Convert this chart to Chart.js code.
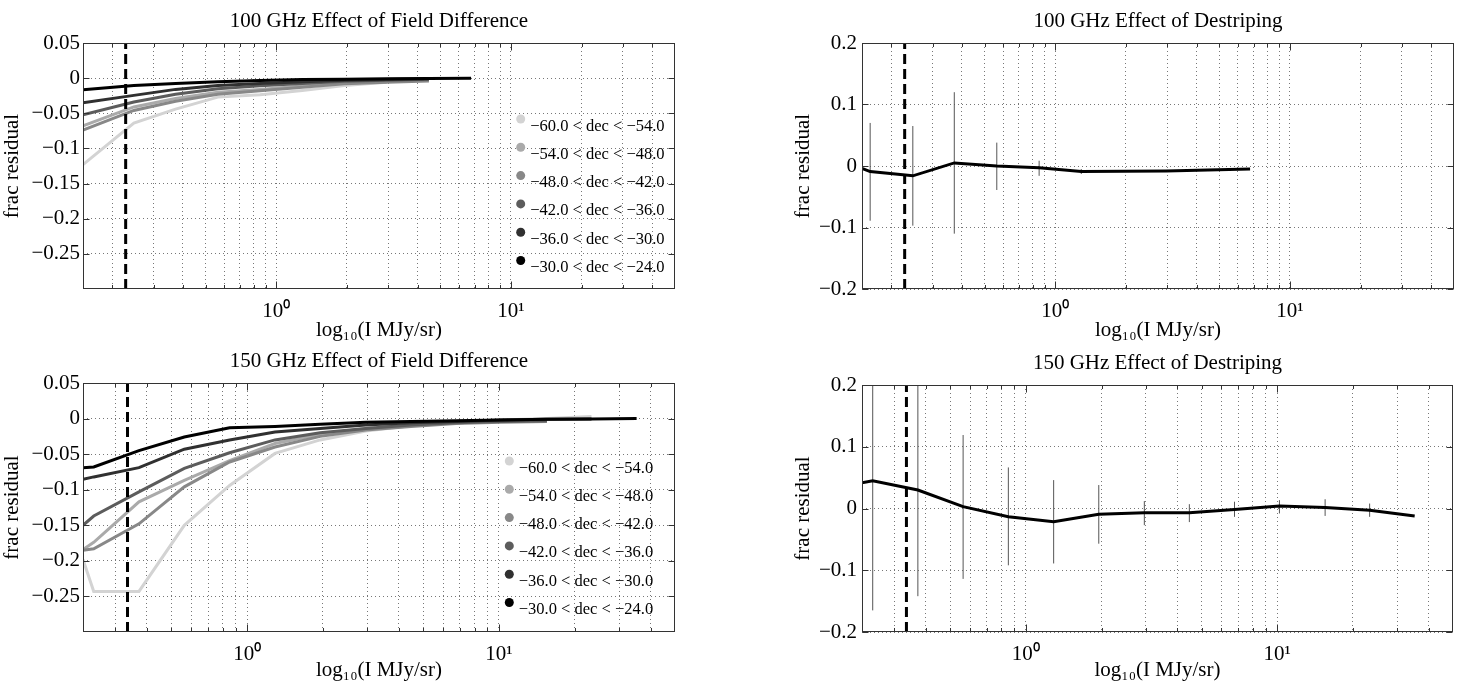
<!DOCTYPE html>
<html>
<head>
<meta charset="utf-8">
<script src="https://cdn.jsdelivr.net/npm/chart.js@4.4.1/dist/chart.umd.min.js"></script>
<style>
  body { margin: 0; background: #fff; }
  #wrap { position: relative; width: 1459px; height: 695px; }
  canvas { position: absolute; }
</style>
</head>
<body>
<div id="wrap">
  <canvas id="fd100" width="729" height="345" style="left:0;top:0"></canvas>
  <canvas id="ds100" width="729" height="345" style="left:730px;top:0"></canvas>
  <canvas id="fd150" width="729" height="350" style="left:0;top:345px"></canvas>
  <canvas id="ds150" width="729" height="350" style="left:730px;top:345px"></canvas>
</div>
<script>
Chart.defaults.font.family = "'Liberation Serif', 'Times New Roman', serif";
Chart.defaults.color = '#000';

// declination bins (legend order, light -> dark)
const decLabels = ['−60.0 < dec < −54.0', '−54.0 < dec < −48.0', '−48.0 < dec < −42.0',
                   '−42.0 < dec < −36.0', '−36.0 < dec < −30.0', '−30.0 < dec < −24.0'];
const decColors = ['#d3d3d3', '#aaaaaa', '#888888', '#5c5c5c', '#303030', '#000000'];

// 100 GHz effect of field difference
const fd100X = [0.15, 0.247, 0.372, 0.563, 0.852, 1.29, 1.95, 2.96, 4.47, 6.76];
const fd100Dec60 = [-0.123, -0.064, -0.044, -0.027, -0.0235, -0.0175, -0.0105, -0.006];
const fd100Dec54 = [-0.068, -0.041, -0.029, -0.020, -0.016, -0.011, -0.007, -0.005];
const fd100Dec48 = [-0.074, -0.046, -0.033, -0.023, -0.018, -0.013, -0.008, -0.006, -0.004];
const fd100Dec42 = [-0.052, -0.034, -0.023, -0.015, -0.011, -0.0075, -0.0045, -0.003, -0.0015];
const fd100Dec36 = [-0.035, -0.0245, -0.016, -0.0105, -0.0075, -0.005, -0.003, -0.002, -0.001];
const fd100Dec30 = [-0.0165, -0.0105, -0.0075, -0.005, -0.0035, -0.002, -0.0015, -0.001, -0.0005, 0];

// 150 GHz effect of field difference
const fd150X = [0.223, 0.246, 0.372, 0.563, 0.852, 1.29, 1.95, 2.96, 4.47, 6.76, 10.2, 15.5, 23.3, 35.2];
const fd150Dec60 = [-0.198, -0.243, -0.243, -0.150, -0.094, -0.049, -0.030, -0.0175, -0.010, -0.006, -0.002, 0.0, 0.003];
const fd150Dec54 = [-0.184, -0.174, -0.117, -0.087, -0.059, -0.035, -0.022, -0.014, -0.009, -0.006, -0.004, -0.003];
const fd150Dec48 = [-0.185, -0.183, -0.148, -0.096, -0.061, -0.040, -0.025, -0.016, -0.011, -0.007, -0.005, -0.004];
const fd150Dec42 = [-0.150, -0.137, -0.103, -0.070, -0.048, -0.030, -0.020, -0.014, -0.009, -0.006, -0.004, -0.003];
const fd150Dec36 = [-0.0855, -0.082, -0.069, -0.043, -0.030, -0.019, -0.014, -0.009, -0.006, -0.004, -0.002, -0.001, -0.0005];
const fd150Dec30 = [-0.069, -0.068, -0.045, -0.026, -0.013, -0.011, -0.008, -0.005, -0.004, -0.003, -0.002, -0.001, -0.0005, 0];

// 100 GHz effect of destriping
const ds100X = [0.15, 0.1625, 0.247, 0.371, 0.563, 0.853, 1.29, 1.95, 2.96, 4.47, 6.76];
const ds100Y = [-0.004, -0.009, -0.016, 0.005, 0.0, -0.003, -0.009, -0.0085, -0.008, -0.0065, -0.005];
const ds100ErrX = [0.1625, 0.247, 0.371, 0.563, 0.853, 1.29];
const ds100ErrLo = [-0.089, -0.097, -0.110, -0.039, -0.016, -0.013];
const ds100ErrHi = [0.070, 0.065, 0.120, 0.038, 0.0086, -0.005];

// 150 GHz effect of destriping
const ds150X = [0.223, 0.246, 0.372, 0.563, 0.852, 1.29, 1.95, 2.96, 4.47, 6.76, 10.2, 15.5, 23.3, 35.2];
const ds150Y = [0.0415, 0.045, 0.030, 0.003, -0.0135, -0.0215, -0.0095, -0.007, -0.007, -0.0015, 0.004, 0.0015, -0.003, -0.012];
const ds150ErrX = [0.246, 0.372, 0.563, 0.852, 1.29, 1.95, 2.96, 4.47, 6.76, 10.2, 15.5, 23.3];
const ds150ErrLo = [-0.165, -0.142, -0.114, -0.092, -0.089, -0.057, -0.027, -0.022, -0.0135, -0.008, -0.012, -0.0135];
const ds150ErrHi = [0.255, 0.205, 0.119, 0.0665, 0.046, 0.038, 0.012, 0.007, 0.011, 0.0135, 0.015, 0.008];

// axes
const xGrid100 = [0.2, 0.3, 0.4, 0.5, 0.6, 0.7, 0.8, 0.9, 1, 2, 3, 4, 5, 6, 7, 8, 9, 10, 20, 30, 40];
const xGrid150 = [0.3, 0.4, 0.5, 0.6, 0.7, 0.8, 0.9, 1, 2, 3, 4, 5, 6, 7, 8, 9, 10, 20, 30, 40];
const xMajor = [1, 10];
const yTicksFd = [0.05, 0, -0.05, -0.1, -0.15, -0.2, -0.25];
const yTicksDs = [0.2, 0.1, 0, -0.1, -0.2];
const cut100 = 0.228;
const cut150 = 0.335;

const FS = 21;
const SUP = {'0': '⁰', '1': '¹', '2': '²', '-': '⁻'};
const fmtY = v => (v < 0 ? '−' : '') + String(Math.abs(v));
const fmtX = v => xMajor.includes(v) ? '10' + String(Math.round(Math.log10(v))).split('').map(c => SUP[c]).join('') : '';

function pts(xs, ys) { return ys.map((y, i) => ({x: xs[i], y: y})); }

function decSets(xs, series) {
  return series.map((ys, i) => ({
    label: decLabels[i], inLegend: true, data: pts(xs, ys),
    borderColor: decColors[i], borderWidth: 3, order: 5 - i
  }));
}

function errSets(xs, lo, hi) {
  return xs.map((x, i) => ({
    data: [{x: x, y: lo[i]}, {x: x, y: hi[i]}],
    borderColor: '#555', borderWidth: 1, order: 1
  }));
}

function cutSet(x, ymin, ymax) {
  return {data: [{x: x, y: ymin}, {x: x, y: ymax}], borderColor: '#000', borderWidth: 3, borderDash: [10, 5], order: -1};
}

// box, inward tick marks
const framePlugin = {
  id: 'frame',
  afterDraw(chart) {
    const {ctx, chartArea: a, scales: {x, y}} = chart;
    const L = Math.round(a.left) + 0.5, R = Math.round(a.right) - 0.5;
    const T = Math.round(a.top) + 0.5, B = Math.round(a.bottom) - 0.5;
    ctx.save();
    ctx.strokeStyle = '#333';
    ctx.lineWidth = 1;
    ctx.strokeRect(L, T, R - L, B - T);
    ctx.beginPath();
    y.ticks.forEach(t => {
      const py = Math.round(y.getPixelForValue(t.value)) + 0.5;
      ctx.moveTo(L, py); ctx.lineTo(L + 6, py);
      ctx.moveTo(R, py); ctx.lineTo(R - 6, py);
    });
    x.ticks.forEach(t => {
      const px = Math.round(x.getPixelForValue(t.value)) + 0.5;
      const len = xMajor.includes(t.value) ? 7 : 3.5;
      ctx.moveTo(px, B); ctx.lineTo(px, B - len);
      ctx.moveTo(px, T); ctx.lineTo(px, T + len);
    });
    ctx.stroke();
    ctx.restore();
  }
};

// panel title and marker legend
const panelPlugin = {
  id: 'panel',
  afterDraw(chart, args, opts) {
    const {ctx, chartArea: a} = chart;
    ctx.save();
    ctx.fillStyle = '#000';
    ctx.font = FS + "px 'Liberation Serif'";
    ctx.textAlign = 'center';
    ctx.textBaseline = 'alphabetic';
    ctx.fillText(opts.title, (a.left + a.right) / 2, a.top - 16);
    if (opts.legend) {
      ctx.font = "16.5px 'Liberation Serif'";
      ctx.textAlign = 'left';
      const x0 = a.right - opts.legend.right;
      chart.data.datasets.filter(d => d.inLegend).forEach((d, i) => {
        const cy = a.top + opts.legend.top + i * 28.3;
        ctx.fillStyle = d.borderColor;
        ctx.beginPath();
        ctx.arc(x0, cy, 4.5, 0, Math.PI * 2);
        ctx.fill();
        ctx.fillStyle = '#000';
        ctx.fillText(d.label, x0 + 9.5, cy + 11.5);
      });
    }
    ctx.restore();
  }
};

function makeChart(id, c) {
  const gridStyle = {color: '#777', lineWidth: 1, drawTicks: false};
  return new Chart(document.getElementById(id), {
    type: 'line',
    data: {datasets: c.datasets},
    options: {
      responsive: false,
      animation: false,
      layout: {padding: c.padding},
      elements: {point: {radius: 0}, line: {tension: 0}},
      plugins: {
        legend: {display: false},
        tooltip: {enabled: false},
        panel: {title: c.title, legend: c.legend}
      },
      scales: {
        x: {
          type: 'logarithmic', min: c.xMin, max: 50,
          afterBuildTicks: s => { s.ticks = c.xGrid.map(v => ({value: v})); },
          afterFit: s => { s.height = 56; },
          grid: gridStyle,
          border: {display: false, dash: [1, 3]},
          ticks: {autoSkip: false, maxRotation: 0, padding: 10, font: {size: FS}, callback: v => fmtX(v)},
          title: {display: true, text: 'log₁₀(I MJy/sr)', font: {size: FS}, padding: {top: 0, bottom: c.xTitlePad}}
        },
        y: {
          type: 'linear', min: c.yMin, max: c.yMax,
          afterBuildTicks: s => { s.ticks = c.yTicks.map(v => ({value: v})); },
          afterFit: s => { s.width = c.yW; },
          grid: gridStyle,
          border: {display: false, dash: [1, 3]},
          ticks: {padding: c.yPad, font: {size: FS}, callback: v => fmtY(v)},
          title: {display: true, text: 'frac residual', font: {size: FS}, padding: {top: 0, bottom: 0}}
        }
      }
    },
    plugins: [framePlugin, panelPlugin]
  });
}

makeChart('fd100', {
  title: '100 GHz Effect of Field Difference',
  datasets: decSets(fd100X, [fd100Dec60, fd100Dec54, fd100Dec48, fd100Dec42, fd100Dec36, fd100Dec30])
    .concat([cutSet(cut100, -0.3, 0.05)]),
  xMin: 0.15, xGrid: xGrid100, yMin: -0.3, yMax: 0.05, yTicks: yTicksFd,
  yW: 83, yPad: 3, xTitlePad: 2, padding: {left: 0, right: 54, top: 43, bottom: 0},
  legend: {right: 154.3, top: 76}
});

makeChart('ds100', {
  title: '100 GHz Effect of Destriping',
  datasets: [{data: pts(ds100X, ds100Y), borderColor: '#000', borderWidth: 3, order: 0}]
    .concat(errSets(ds100ErrX, ds100ErrLo, ds100ErrHi), [cutSet(cut100, -0.2, 0.2)]),
  xMin: 0.15, xGrid: xGrid100, yMin: -0.2, yMax: 0.2, yTicks: yTicksDs,
  yW: 71, yPad: 5, xTitlePad: 2, padding: {left: 61, right: 5, top: 43, bottom: 0},
  legend: null
});

makeChart('fd150', {
  title: '150 GHz Effect of Field Difference',
  datasets: decSets(fd150X, [fd150Dec60, fd150Dec54, fd150Dec48, fd150Dec42, fd150Dec36, fd150Dec30])
    .concat([cutSet(cut150, -0.3, 0.05)]),
  xMin: 0.223, xGrid: xGrid150, yMin: -0.3, yMax: 0.05, yTicks: yTicksFd,
  yW: 83, yPad: 3, xTitlePad: 5, padding: {left: 0, right: 54, top: 38, bottom: 7},
  legend: {right: 165.7, top: 78}
});

makeChart('ds150', {
  title: '150 GHz Effect of Destriping',
  datasets: [{data: pts(ds150X, ds150Y), borderColor: '#000', borderWidth: 3, order: 0}]
    .concat(errSets(ds150ErrX, ds150ErrLo, ds150ErrHi), [cutSet(cut150, -0.2, 0.2)]),
  xMin: 0.223, xGrid: xGrid150, yMin: -0.2, yMax: 0.2, yTicks: yTicksDs,
  yW: 71, yPad: 5, xTitlePad: 5, padding: {left: 61, right: 6, top: 40, bottom: 7},
  legend: null
});
</script>
</body>
</html>
